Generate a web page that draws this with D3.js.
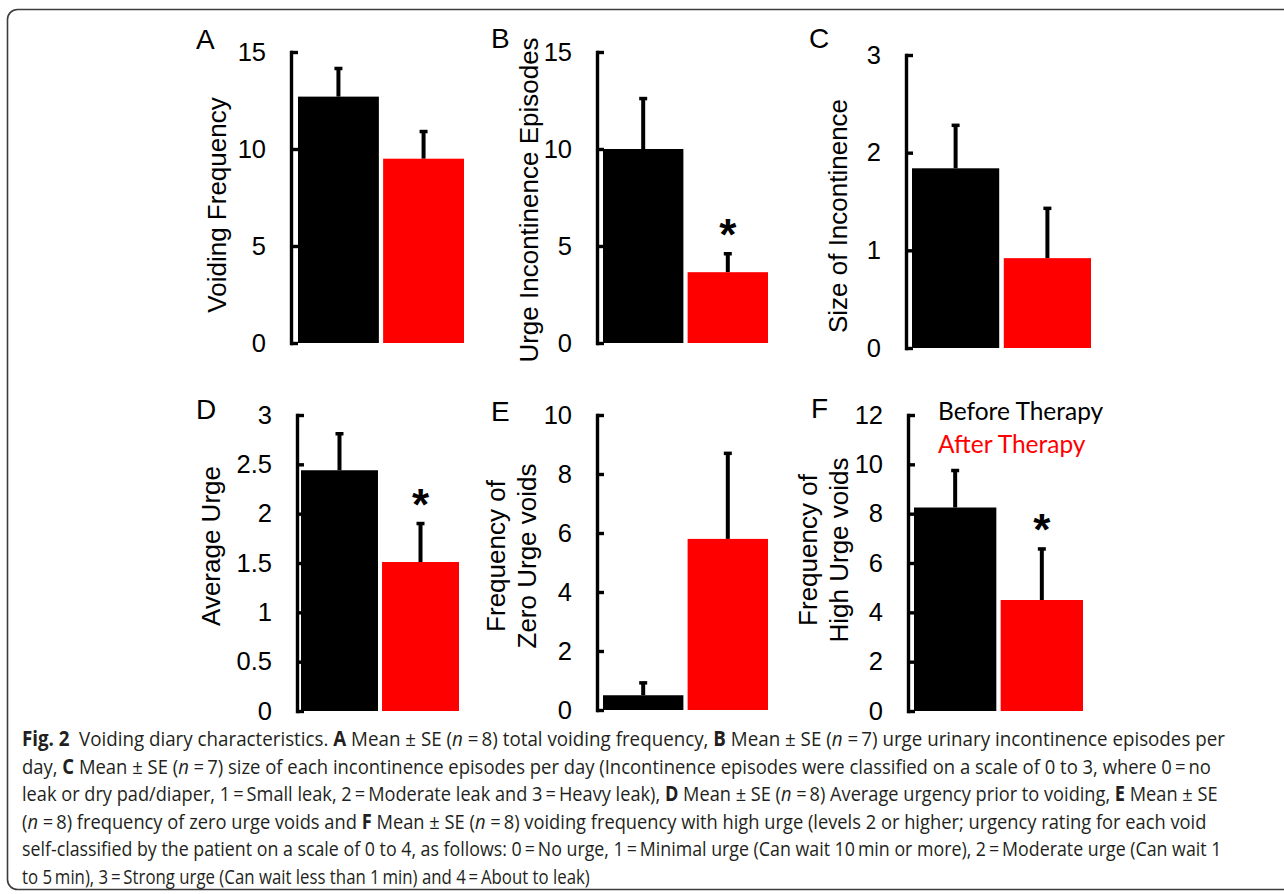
<!DOCTYPE html>
<html>
<head>
<meta charset="utf-8">
<script src="https://cdn.jsdelivr.net/npm/d3@7"></script>
<style>
  body { margin: 0; background: #fff; }
  svg { display: block; }
</style>
</head>
<body>
<div id="chart"></div>
<script>
var svgWidth = 1284;
var svgHeight = 894;

// Data
var groups = ["Before Therapy", "After Therapy"];
var groupColors = ["#000000", "#ff0000"];
var panelLetters = ["A", "B", "C", "D", "E", "F"];
var yLabels = [
  ["Voiding Frequency"],
  ["Urge Incontinence Episodes"],
  ["Size of Incontinence"],
  ["Average Urge"],
  ["Frequency of", "Zero Urge voids"],
  ["Frequency of", "High Urge voids"]
];
var beforeMeans = [12.7, 10.0, 1.84, 2.44, 0.5, 8.25];
var beforeSE = [1.45, 2.6, 0.44, 0.37, 0.42, 1.5];
var afterMeans = [9.5, 3.65, 0.92, 1.51, 5.8, 4.5];
var afterSE = [1.4, 0.95, 0.51, 0.39, 2.9, 2.07];
var significant = [false, true, false, true, false, true];
var yMax = [15, 15, 3, 3, 10, 12];
var yTicks = [
  [0, 5, 10, 15],
  [0, 5, 10, 15],
  [0, 1, 2, 3],
  [0, 0.5, 1, 1.5, 2, 2.5, 3],
  [0, 2, 4, 6, 8, 10],
  [0, 2, 4, 6, 8, 10, 12]
];

// panel placement on the page
var layout = [
  {axisX: 291, top: 52, bottom: 343, x0: 298, x1: 464, letter: [196, 49], label: [226, 205]},
  {axisX: 597, top: 52, bottom: 343, x0: 603, x1: 768, letter: [491, 48], label: [538, 200]},
  {axisX: 906, top: 55, bottom: 348, x0: 912, x1: 1091, letter: [809, 48], label: [847, 216]},
  {axisX: 297, top: 415, bottom: 711, x0: 301, x1: 459, letter: [196, 419], label: [220, 546]},
  {axisX: 597, top: 415, bottom: 710, x0: 603, x1: 768, letter: [491, 421], label: [505, 556]},
  {axisX: 908, top: 415, bottom: 711, x0: 914, x1: 1083, letter: [811, 418], label: [817, 550]}
];

var chartFont = "'Liberation Sans', Arial, sans-serif";

var svg = d3.select("#chart")
  .append("svg")
  .attr("width", svgWidth)
  .attr("height", svgHeight);

// frame round the figure + caption
svg.append("rect")
  .attr("x", 7.5)
  .attr("y", 9.5)
  .attr("width", 1300)
  .attr("height", 880)
  .attr("rx", 10)
  .attr("fill", "none")
  .attr("stroke", "#3c3c3c")
  .attr("stroke-width", 1.6);

panelLetters.forEach(function(letter, i) {
  var L = layout[i];
  var g = svg.append("g");

  var y = d3.scaleLinear()
    .domain([0, yMax[i]])
    .range([L.bottom, L.top]);

  var x = d3.scaleBand()
    .domain(groups)
    .range([L.x0, L.x1])
    .paddingInner(0.05);

  var rows = [
    {group: groups[0], mean: beforeMeans[i], se: beforeSE[i], color: groupColors[0]},
    {group: groups[1], mean: afterMeans[i], se: afterSE[i], color: groupColors[1]}
  ];

  // error bars (upper only)
  var err = g.selectAll(".err")
    .data(rows)
    .enter()
    .append("g")
    .attr("class", "err");

  err.append("line")
    .attr("x1", d => x(d.group) + x.bandwidth() / 2)
    .attr("x2", d => x(d.group) + x.bandwidth() / 2)
    .attr("y1", d => y(d.mean))
    .attr("y2", d => y(d.mean + d.se))
    .attr("stroke", "#000")
    .attr("stroke-width", 4);

  err.append("line")
    .attr("x1", d => x(d.group) + x.bandwidth() / 2 - 4)
    .attr("x2", d => x(d.group) + x.bandwidth() / 2 + 4)
    .attr("y1", d => y(d.mean + d.se))
    .attr("y2", d => y(d.mean + d.se))
    .attr("stroke", "#000")
    .attr("stroke-width", 3.5);

  g.selectAll(".bar")
    .data(rows)
    .enter()
    .append("rect")
    .attr("class", "bar")
    .attr("x", d => x(d.group))
    .attr("y", d => y(d.mean))
    .attr("width", x.bandwidth())
    .attr("height", d => y(0) - y(d.mean))
    .attr("fill", d => d.color);

  // axis, ticks pointing inward
  var leftAxis = d3.axisLeft(y)
    .tickValues(yTicks[i])
    .tickFormat(d => String(d))
    .tickSizeInner(-7)
    .tickSizeOuter(0)
    .tickPadding(25);

  var ax = g.append("g")
    .attr("transform", `translate(${L.axisX}, 0)`)
    .call(leftAxis);

  ax.select(".domain")
    .attr("stroke", "#000")
    .attr("stroke-width", 3.4)
    .attr("stroke-linecap", "square");
  ax.selectAll(".tick line")
    .attr("stroke", "#000")
    .attr("stroke-width", 3.4);
  ax.selectAll(".tick text")
    .attr("fill", "#000")
    .attr("font-family", chartFont)
    .attr("font-size", "25.5px");

  // significance star
  if (significant[i]) {
    g.append("text")
      .attr("x", x(groups[1]) + x.bandwidth() / 2)
      .attr("y", y(afterMeans[i] + afterSE[i]) - 4)
      .attr("text-anchor", "middle")
      .attr("font-family", chartFont)
      .attr("font-weight", "bold")
      .attr("font-size", "44px")
      .text("*");
  }

  // panel letter
  g.append("text")
    .attr("x", L.letter[0])
    .attr("y", L.letter[1])
    .attr("font-family", chartFont)
    .attr("font-size", "28px")
    .text(letter);

  // y axis title
  yLabels[i].forEach(function(line, k) {
    g.append("text")
      .attr("transform", `translate(${L.label[0] + k * 31}, ${L.label[1]}) rotate(-90)`)
      .attr("text-anchor", "middle")
      .attr("font-family", chartFont)
      .attr("font-size", "26px")
      .text(line);
  });
});

// legend in panel F
svg.append("g")
  .selectAll("text")
  .data(groups)
  .enter()
  .append("text")
  .attr("x", 938)
  .attr("y", (d, k) => 420 + k * 33)
  .attr("fill", (d, k) => groupColors[k])
  .attr("font-family", "Lato, 'Open Sans', sans-serif")
  .attr("font-size", "24.5px")
  .text(d => d);

// caption
var sp = "\u2009";
var captionLines = [
  [["Fig. 2", "b"], ["\u2002Voiding diary characteristics. ", ""], ["A", "b"], [" Mean \u00b1 SE (", ""], ["n", "i"], [" =" + sp + "8) total voiding frequency, ", ""], ["B", "b"], [" Mean \u00b1 SE (", ""], ["n", "i"], [" =" + sp + "7) urge urinary incontinence episodes per", ""]],
  [["day, ", ""], ["C", "b"], [" Mean \u00b1 SE (", ""], ["n", "i"], [" =" + sp + "7) size of each incontinence episodes per day (Incontinence episodes were classified on a scale of 0 to 3, where 0" + sp + "=" + sp + "no", ""]],
  [["leak or dry pad/diaper, 1" + sp + "=" + sp + "Small leak, 2" + sp + "=" + sp + "Moderate leak and 3" + sp + "=" + sp + "Heavy leak), ", ""], ["D", "b"], [" Mean \u00b1 SE (", ""], ["n", "i"], [" =" + sp + "8) Average urgency prior to voiding, ", ""], ["E", "b"], [" Mean \u00b1 SE", ""]],
  [["(", ""], ["n", "i"], [" =" + sp + "8) frequency of zero urge voids and ", ""], ["F", "b"], [" Mean \u00b1 SE (", ""], ["n", "i"], [" =" + sp + "8) voiding frequency with high urge (levels 2 or higher; urgency rating for each void", ""]],
  [["self-classified by the patient on a scale of 0 to 4, as follows: 0" + sp + "=" + sp + "No urge, 1" + sp + "=" + sp + "Minimal urge (Can wait 10" + sp + "min or more), 2" + sp + "=" + sp + "Moderate urge (Can wait 1", ""]],
  [["to 5" + sp + "min), 3" + sp + "=" + sp + "Strong urge (Can wait less than 1" + sp + "min) and 4" + sp + "=" + sp + "About to leak)", ""]]
];
// right edge of each caption line in the reference
var captionEnds = [1226, 1211, 1218, 1207, 1222, 590];

var capLines = svg.append("g")
  .selectAll("text")
  .data(captionLines)
  .enter()
  .append("text")
  .attr("x", 0)
  .attr("y", 0)
  .attr("font-family", "'Open Sans', 'Noto Sans', sans-serif")
  .attr("font-size", "20.5px")
  .attr("fill", "#231f20")
  .style("white-space", "pre");

capLines.selectAll("tspan")
  .data(d => d)
  .enter()
  .append("tspan")
  .attr("font-weight", d => d[1] === "b" ? "bold" : null)
  .attr("font-style", d => d[1] === "i" ? "italic" : null)
  .text(d => d[0]);

// squeeze each line horizontally to the width it has in the original
capLines.each(function(d, k) {
  var w = this.getComputedTextLength();
  var sx = (captionEnds[k] - 22) / w;
  d3.select(this).attr("transform", `translate(22, ${746 + k * 27.6}) scale(${sx}, 1)`);
});
</script>
</body>
</html>
